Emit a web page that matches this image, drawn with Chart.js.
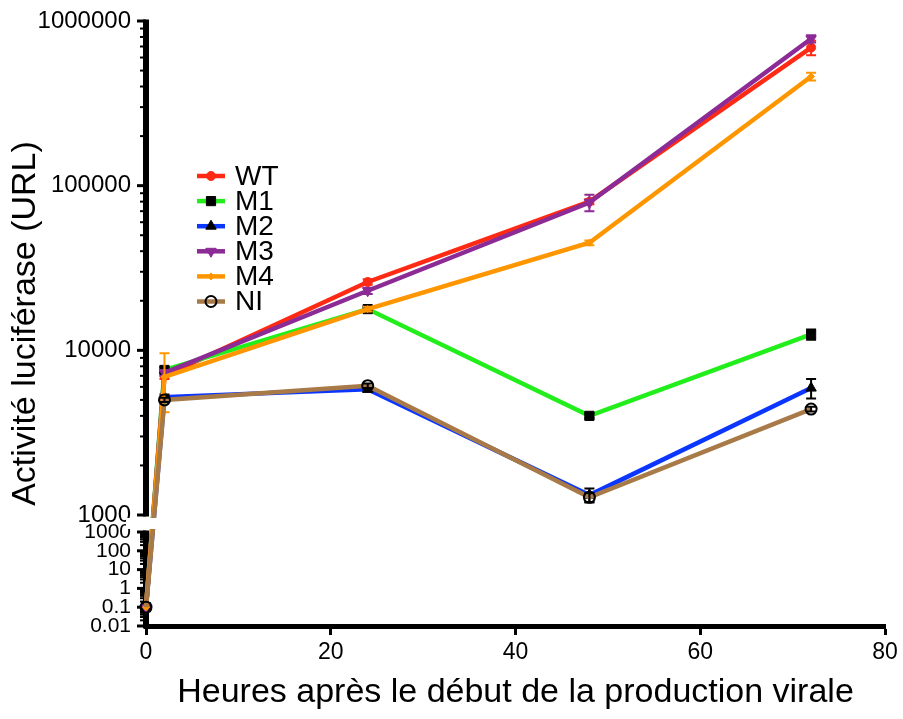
<!DOCTYPE html>
<html>
<head>
<meta charset="utf-8">
<script src="https://cdn.jsdelivr.net/npm/chart.js@4.4.1/dist/chart.umd.min.js"></script>
<style>
  html, body { margin: 0; padding: 0; background: #fff; }
</style>
</head>
<body>
<canvas id="myChart" width="903" height="719"></canvas>
<script>
// data
var hours = [0, 2, 24, 48, 72];
var seriesNames = ["WT", "M1", "M2", "M3", "M4", "NI"];

var wtValues = [0.1, 7000, 26000, 80000, 690000];
var m1Values = [0.1, 7600, 17800, 4000, 12500];
var m2Values = [0.1, 5200, 5800, 1320, 5900];
var m3Values = [0.1, 7300, 23000, 79000, 780000];
var m4Values = [0.1, 6900, 17800, 45000, 460000];
var niValues = [0.1, 5000, 6100, 1280, 4400];

// SEM
var wtErrors = [0, 300, 1000, 3000, 70000];
var m1Errors = [0, 300, 600, 150, 900];
var m2Errors = [0, 200, 200, 130, 800];
var m3Errors = [0, 300, 1000, 9000, 40000];
var m4Errors = [0, 2700, 600, 1500, 25000];
var niErrors = [0, 150, 200, 80, 150];

var xTicks = [0, 20, 40, 60, 80];
var yTicksLower = [0.01, 0.1, 1, 10, 100, 1000];
var yTicksUpper = [1000, 10000, 100000, 1000000];

var FONT = "'Liberation Sans', Arial, Helvetica, sans-serif";
var BREAK = 1000;
// share of the axis height: lower part and gap
var LOW_FRAC = 94 / 605;
var GAP_FRAC = 17 / 605;

///////////////// broken log axis //////////////////
class BrokenLogScale extends Chart.Scale {
    determineDataLimits() {
        this.min = yTicksLower[0];
        this.max = yTicksUpper[yTicksUpper.length - 1];
    }
    buildTicks() {
        var ticks = [];
        function addPart(list, low) {
            for (var i = 0; i < list.length; i++) {
                ticks.push({ value: list[i], low: low, major: true, text: String(list[i]) });
                if (i < list.length - 1) {
                    for (var k = 2; k <= 9; k++) {
                        ticks.push({ value: list[i] * k, low: low, major: false, text: "" });
                    }
                }
            }
        }
        addPart(yTicksLower, true);
        addPart(yTicksUpper, false);
        return ticks;
    }
    decimalFor(v, low) {
        var lmin = Math.log10(this.min), lbrk = Math.log10(BREAK), lmax = Math.log10(this.max);
        var lv = Math.log10(Math.max(v, 1e-9));
        if (low === undefined) low = v < BREAK;
        if (low) return (lv - lmin) / (lbrk - lmin) * LOW_FRAC;
        return LOW_FRAC + GAP_FRAC + (lv - lbrk) / (lmax - lbrk) * (1 - LOW_FRAC - GAP_FRAC);
    }
    getPixelForValue(v) {
        return this.getPixelForDecimal(this.decimalFor(v));
    }
    getPixelForTick(i) {
        var t = this.ticks[i];
        return this.getPixelForDecimal(this.decimalFor(t.value, t.low));
    }
    getValueForPixel(p) {
        var d = this.getDecimalForPixel(p);
        var lmin = Math.log10(this.min), lbrk = Math.log10(BREAK), lmax = Math.log10(this.max);
        if (d <= LOW_FRAC) return Math.pow(10, lmin + d / LOW_FRAC * (lbrk - lmin));
        return Math.pow(10, lbrk + (d - LOW_FRAC - GAP_FRAC) / (1 - LOW_FRAC - GAP_FRAC) * (lmax - lbrk));
    }
    getLabelForValue(v) {
        return String(v);
    }
}
BrokenLogScale.id = "brokenLog";
BrokenLogScale.defaults = {};
Chart.register(BrokenLogScale);

function makeSet(i, values, errors, color, style) {
    return Object.assign({
        label: seriesNames[i],
        data: hours.map(function(h, j) { return { x: h, y: values[j] }; }),
        errors: errors,
        errorColor: style.pointBorderColor,
        borderColor: color,
        backgroundColor: color,
        borderWidth: 4.5,
        tension: 0,
        clip: false,
        order: seriesNames.length - 1 - i
    }, style);
}

var datasets = [
    makeSet(0, wtValues, wtErrors, "#ff2a14", { pointStyle: "circle", pointRadius: 4.5, pointBackgroundColor: "#ff2a14", pointBorderColor: "#ff2a14", pointBorderWidth: 1 }),
    makeSet(1, m1Values, m1Errors, "#22ee1c", { pointStyle: "rect", pointRadius: 6.5, pointBackgroundColor: "#000", pointBorderColor: "#000", pointBorderWidth: 1 }),
    makeSet(2, m2Values, m2Errors, "#0a36ff", { pointStyle: "triangle", pointRadius: 6, pointBackgroundColor: "#000", pointBorderColor: "#000", pointBorderWidth: 1 }),
    makeSet(3, m3Values, m3Errors, "#8c2a96", { pointStyle: "triangle", pointRotation: 180, pointRadius: 6, pointBackgroundColor: "#8c2a96", pointBorderColor: "#8c2a96", pointBorderWidth: 1 }),
    makeSet(4, m4Values, m4Errors, "#ff9600", { pointStyle: "rectRot", pointRadius: 3.5, pointBackgroundColor: "#ff9600", pointBorderColor: "#ff9600", pointBorderWidth: 1 }),
    makeSet(5, niValues, niErrors, "#a87a48", { pointStyle: "circle", pointRadius: 5.5, pointBackgroundColor: "rgba(0,0,0,0)", pointBorderColor: "#000", pointBorderWidth: 2 })
];

// y axis line with the break, plus its ticks
var brokenAxisPlugin = {
    id: "brokenAxis",
    beforeDatasetsDraw: function(chart) {
        var y = chart.scales.y, ctx = chart.ctx, x0 = chart.chartArea.left;
        var upTop = y.getPixelForDecimal(1);
        var upBot = y.getPixelForDecimal(y.decimalFor(BREAK, false));
        var lowTop = y.getPixelForDecimal(y.decimalFor(BREAK, true));
        var lowBot = y.getPixelForDecimal(0) + 2.5;
        ctx.save();
        ctx.strokeStyle = "#000";
        ctx.lineWidth = 6;
        ctx.beginPath();
        ctx.moveTo(x0, upTop - 1.5); ctx.lineTo(x0, upBot + 1.5);
        ctx.moveTo(x0, lowTop - 1.5); ctx.lineTo(x0, lowBot);
        ctx.stroke();
        y.ticks.forEach(function(t, i) {
            var py = y.getPixelForTick(i);
            ctx.lineWidth = t.major ? 3 : 2;
            ctx.beginPath();
            ctx.moveTo(x0, py);
            ctx.lineTo(x0 - (t.major ? 9 : 6), py);
            ctx.stroke();
        });
        ctx.restore();
    },
    afterDatasetDraw: function(chart, args) {
        var ds = chart.data.datasets[args.index];
        var y = chart.scales.y, ctx = chart.ctx;
        ctx.save();
        ctx.strokeStyle = ds.errorColor;
        ctx.lineWidth = 2;
        args.meta.data.forEach(function(pt, j) {
            var e = ds.errors[j];
            if (!e) return;
            var v = ds.data[j].y;
            var top = y.getPixelForValue(v + e);
            var bot = v - e > 0 ? y.getPixelForValue(v - e) : pt.y;
            ctx.beginPath();
            ctx.moveTo(pt.x, top); ctx.lineTo(pt.x, bot);
            ctx.moveTo(pt.x - 5, top); ctx.lineTo(pt.x + 5, top);
            ctx.moveTo(pt.x - 5, bot); ctx.lineTo(pt.x + 5, bot);
            ctx.stroke();
        });
        ctx.restore();
    },
    afterDatasetsDraw: function(chart) {
        // blank the lines inside the axis break
        var y = chart.scales.y, ctx = chart.ctx, x0 = chart.chartArea.left;
        var upBot = y.getPixelForDecimal(y.decimalFor(BREAK, false));
        var lowTop = y.getPixelForDecimal(y.decimalFor(BREAK, true));
        ctx.save();
        ctx.fillStyle = "#fff";
        ctx.fillRect(x0 - 20, upBot + 3, 80, lowTop - upBot - 6);
        ctx.restore();
    }
};

// legend placed inside the plot, like the original
var innerLegendPlugin = {
    id: "innerLegend",
    afterDraw: function(chart) {
        var ctx = chart.ctx;
        ctx.save();
        chart.data.datasets.forEach(function(ds, i) {
            var ly = 176 + i * 25.1;
            ctx.strokeStyle = ds.borderColor;
            ctx.lineWidth = 4.5;
            ctx.beginPath(); ctx.moveTo(197, ly); ctx.lineTo(225, ly); ctx.stroke();
            ctx.fillStyle = ds.pointBackgroundColor;
            ctx.strokeStyle = ds.pointBorderColor;
            ctx.lineWidth = ds.pointBorderWidth;
            Chart.helpers.drawPoint(ctx, {
                pointStyle: ds.pointStyle,
                rotation: ds.pointRotation || 0,
                radius: ds.pointRadius,
                borderWidth: ds.pointBorderWidth
            }, 211, ly);
            ctx.fillStyle = "#000";
            ctx.font = "28px " + FONT;
            ctx.textBaseline = "middle";
            ctx.textAlign = "left";
            ctx.fillText(ds.label, 235, ly + 1);
        });
        ctx.restore();
    }
};

var ctx = document.getElementById("myChart");
var myChart = new Chart(ctx, {
    type: "line",
    data: { datasets: datasets },
    options: {
        responsive: false,
        animation: false,
        devicePixelRatio: 1,
        events: [],
        layout: { padding: { top: 21, right: 18, left: 0, bottom: 0 } },
        plugins: { legend: { display: false }, tooltip: { enabled: false } },
        scales: {
            x: {
                type: "linear",
                min: 0,
                max: 80,
                afterBuildTicks: function(s) { s.ticks = xTicks.map(function(v) { return { value: v }; }); },
                afterFit: function(s) { s.height = 93; s.paddingLeft = 0; s.paddingRight = 0; },
                border: { display: true, color: "#000", width: 5 },
                grid: { drawOnChartArea: false, drawTicks: true, tickLength: 9, tickWidth: 3, tickColor: "#000" },
                ticks: { color: "#000", padding: 4, font: { family: FONT, size: 23 } },
                title: {
                    display: true,
                    text: "Heures après le début de la production virale",
                    color: "#000",
                    font: { family: FONT, size: 34 },
                    padding: { top: 0, bottom: 6 }
                }
            },
            y: {
                type: "brokenLog",
                position: "left",
                afterFit: function(s) { s.width = 146; s.paddingTop = 0; s.paddingBottom = 0; },
                border: { display: false },
                grid: { display: false, drawTicks: false, tickLength: 0 },
                ticks: {
                    autoSkip: false,
                    color: "#000",
                    padding: 15,
                    callback: function(v, i, ticks) { return ticks[i].text; },
                    font: function(c) {
                        return { family: FONT, size: c.tick && c.tick.low ? 21 : 24 };
                    }
                },
                title: {
                    display: true,
                    text: "Activité luciférase (URL)",
                    color: "#000",
                    font: { family: FONT, size: 34 },
                    padding: { top: 5, bottom: 0 }
                }
            }
        }
    },
    plugins: [brokenAxisPlugin, innerLegendPlugin]
});
</script>
</body>
</html>
